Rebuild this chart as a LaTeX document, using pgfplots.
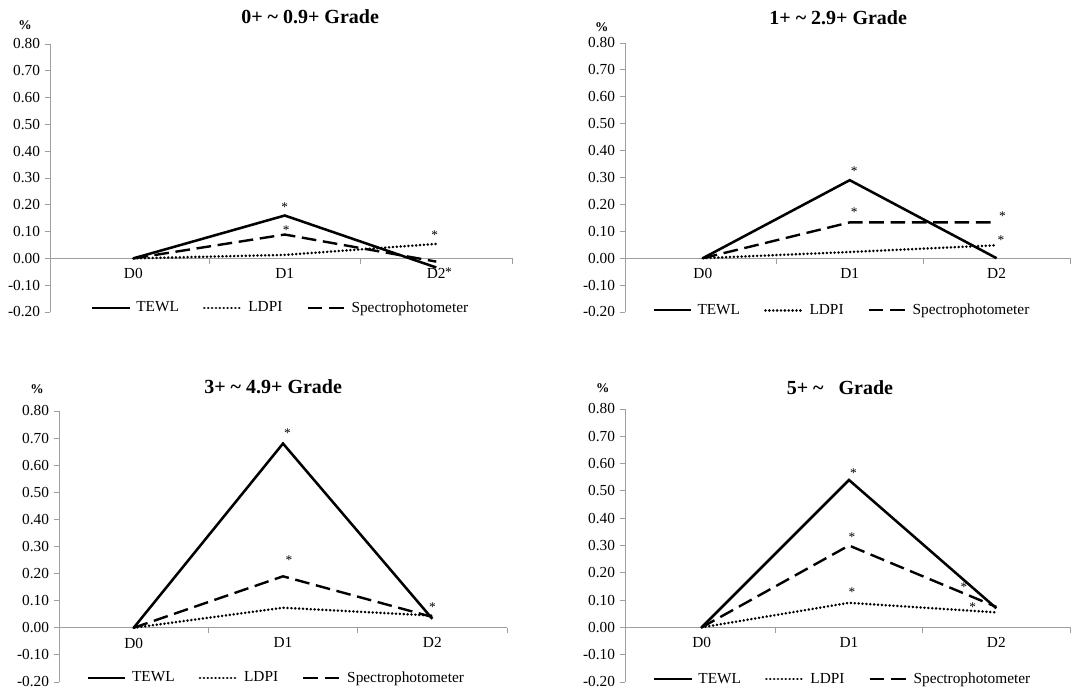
\documentclass[border=0pt]{standalone}
\usepackage{fontspec}
\setmainfont{Liberation Serif}
\usepackage{pgfplots}
\pgfplotsset{compat=1.18}
\tikzset{
  tewl/.style={black, line width=1.9pt},
  ldpi/.style={black, line width=2.1pt, line cap=round, dash pattern=on 0.01pt off 2.9pt},
  spec/.style={black, line width=1.8pt, dash pattern=on 11pt off 5pt},
}
\pgfplotsset{
  panel/.style={
    scale only axis, clip=false,
    ymin=-0.2, ymax=0.8, xmax=2.5,
    axis x line=middle, axis y line=left,
    hide obscured x ticks=false, hide obscured y ticks=false,
    axis line style={-, draw=gray!75, line width=0.7pt},
    tick style={draw=gray!75, line width=0.7pt},
    tick align=outside, major tick length=4pt,
    xtick={0.5,1.5,2.5}, xticklabels={},
    extra x ticks={0,1,2}, extra x tick labels={D0,D1,D2},
    extra x tick style={major tick length=0pt, xticklabel style={yshift=-4pt}},
    ytick={-0.2,-0.1,0,0.1,0.2,0.3,0.4,0.5,0.6,0.7,0.8},
    yticklabels={-0.20,-0.10,0.00,0.10,0.20,0.30,0.40,0.50,0.60,0.70,0.80},
    ticklabel style={font=\fontsize{11.5}{12}\selectfont},
    legend columns=3,
    legend style={draw=none, fill=none, font=\fontsize{11.5}{12}\selectfont,
      anchor=center, /tikz/every even column/.append style={column sep=16pt},
      /tikz/every odd column/.append style={column sep=2pt}},
    legend image code/.code={\draw[#1] (0pt,0pt) -- (28pt,0pt);},
  },
  star/.style={draw=none, mark=none, forget plot, nodes near coords={*},
    every node near coord/.style={anchor=center, inner sep=0pt, font=\fontsize{10}{10}\selectfont}},
}
\newcommand{\ttl}[1]{\fontsize{15}{16}\selectfont\bfseries #1}
\begin{document}
\begin{tikzpicture}
\useasboundingbox (0,0) rectangle (816.75pt,518.25pt);
% Panel 1
\begin{axis}[panel, at={(37.5pt,284.25pt)}, anchor=south west,
  width=346.5pt, height=201pt, xmin=-0.55,
  legend style={at={(0.5,0.015)}}]
\addplot[tewl] coordinates {(0,0) (1,0.16) (2,-0.034)};
\addplot[ldpi] coordinates {(0,0) (1,0.013) (2,0.054)};
\addplot[spec] coordinates {(0,0) (1,0.089) (2,-0.012)};
\legend{TEWL,LDPI,Spectrophotometer}
\addplot[star] coordinates {(1.0,0.19) (1.01,0.104) (1.99,0.085) (2.08,-0.05)};
\node[font=\ttl{}] at (rel axis cs:0.563,1.10) {0+ \textasciitilde\ 0.9+ Grade};
\node[font=\fontsize{10}{10}\selectfont\bfseries] at (rel axis cs:-0.054,1.071) {\%};
\end{axis}
% Panel 2
\begin{axis}[panel, at={(468.75pt,284.25pt)}, anchor=south west,
  width=333.75pt, height=201.75pt, xmin=-0.53,
  legend style={at={(0.488,0.007)}}]
\addplot[tewl] coordinates {(0,0) (1,0.29) (2,0.0)};
\addplot[ldpi] coordinates {(0,0) (1,0.023) (2,0.048)};
\addplot[spec] coordinates {(0,0) (1,0.133) (2,0.133)};
\legend{TEWL,LDPI,Spectrophotometer}
\addplot[star] coordinates {(1.03,0.322) (1.03,0.17) (2.04,0.158) (2.03,0.067)};
\node[font=\ttl{}] at (rel axis cs:0.479,1.093) {1+ \textasciitilde\ 2.9+ Grade};
\node[font=\fontsize{10}{10}\selectfont\bfseries] at (rel axis cs:-0.052,1.06) {\%};
\end{axis}
% Panel 3
\begin{axis}[panel, at={(44.25pt,6.75pt)}, anchor=south west,
  width=336pt, height=203.25pt, xmin=-0.5,
  legend style={at={(0.486,0.015)}}]
\addplot[tewl] coordinates {(0,0) (1,0.68) (2,0.033)};
\addplot[ldpi] coordinates {(0,0) (1,0.074) (2,0.045)};
\addplot[spec] coordinates {(0,0) (1,0.19) (2,0.04)};
\legend{TEWL,LDPI,Spectrophotometer}
\addplot[star] coordinates {(1.03,0.717) (1.04,0.248) (2.0,0.076)};
\node[font=\ttl{}] at (rel axis cs:0.478,1.089) {3+ \textasciitilde\ 4.9+ Grade};
\node[font=\fontsize{10}{10}\selectfont\bfseries] at (rel axis cs:-0.049,1.08) {\%};
\end{axis}
% Panel 4
\begin{axis}[panel, at={(468.75pt,6.75pt)}, anchor=south west,
  width=333.75pt, height=204.75pt, xmin=-0.52,
  legend style={at={(0.49,0.011)}}]
\addplot[tewl] coordinates {(0,0) (1,0.54) (2,0.07)};
\addplot[ldpi] coordinates {(0,0) (1,0.09) (2,0.055)};
\addplot[spec] coordinates {(0,0) (1,0.30) (2,0.075)};
\legend{TEWL,LDPI,Spectrophotometer}
\addplot[star] coordinates {(1.03,0.566) (1.02,0.332) (1.02,0.128) (1.78,0.149) (1.84,0.076)};
\node[font=\ttl{}] at (rel axis cs:0.483,1.078) {5+ \textasciitilde\ \ \ Grade};
\node[font=\fontsize{10}{10}\selectfont\bfseries] at (rel axis cs:-0.05,1.077) {\%};
\end{axis}
\end{tikzpicture}
\end{document}
